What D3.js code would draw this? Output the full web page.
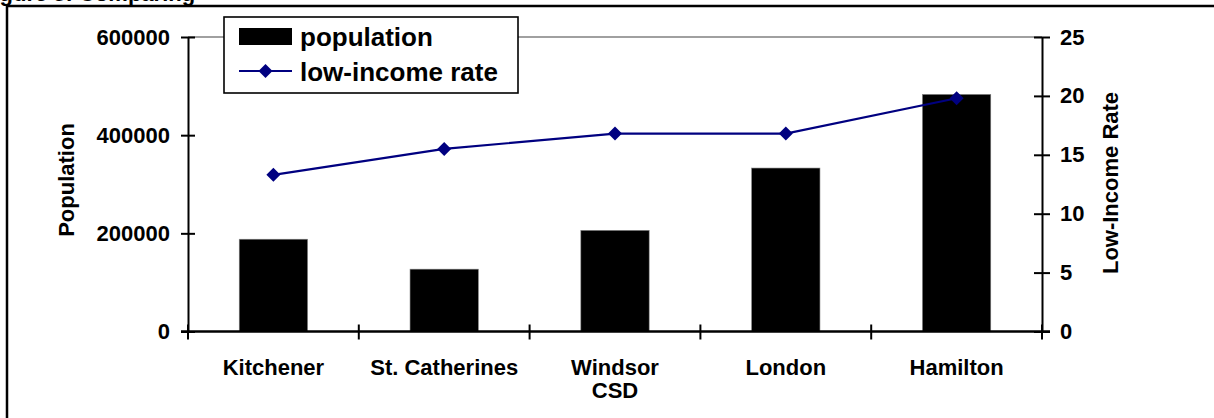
<!DOCTYPE html>
<html>
<head>
<meta charset="utf-8">
<script src="https://cdn.jsdelivr.net/npm/d3@7"></script>
<style>
  html, body { margin: 0; padding: 0; background: #fff; overflow: hidden; }
  svg { display: block; font-family: "Liberation Sans", Arial, sans-serif; font-weight: bold; }
</style>
</head>
<body>
<svg id="chart" width="1214" height="418"></svg>
<script>
// Cities (two-line labels split on "\n")
const categories = ["Kitchener", "St. Catherines", "Windsor\nCSD", "London", "Hamilton"];
// Population counts (bars, left axis)
const population = [188000, 127000, 206000, 333000, 483000];
// Low-income rate, % (line, right axis)
const lowIncomeRate = [13.3, 15.5, 16.8, 16.8, 19.8];
// Axis tick values
const popTicks = [0, 200000, 400000, 600000];
const rateTicks = [0, 5, 10, 15, 20, 25];
const titleText = "Figure 5: Comparing";

const svg = d3.select("#chart");
const plot = { left: 188, right: 1042, top: 37, bottom: 331.5 };

const x = d3.scaleBand().domain(categories).range([plot.left, plot.right]).padding(0);
const yPop = d3.scaleLinear().domain([0, 600000]).range([plot.bottom, plot.top]);
const yRate = d3.scaleLinear().domain([0, 25]).range([plot.bottom, plot.top]);

// Outer frame and figure title (sits above the frame, mostly out of view)
svg.append("text")
  .attr("x", -20).attr("y", 0.5)
  .attr("font-size", 22)
  .text(titleText);
svg.append("rect")
  .attr("x", 7).attr("y", 6)
  .attr("width", 1230).attr("height", 440)
  .attr("fill", "none").attr("stroke", "#000").attr("stroke-width", 2.5);

// Top gridline
svg.append("line")
  .attr("x1", plot.left).attr("x2", plot.right)
  .attr("y1", yPop(600000)).attr("y2", yPop(600000))
  .attr("stroke", "#808080").attr("stroke-width", 1.5);

// Bars
const barW = x.bandwidth() * 0.4;
svg.append("g").selectAll("rect")
  .data(categories)
  .join("rect")
  .attr("x", d => x(d) + (x.bandwidth() - barW) / 2)
  .attr("y", (d, i) => yPop(population[i]))
  .attr("width", barW)
  .attr("height", (d, i) => yPop(0) - yPop(population[i]))
  .attr("fill", "#000")
  .attr("stroke", "#808080").attr("stroke-width", 0.6);

// Left axis
const leftAxis = d3.axisLeft(yPop).tickValues(popTicks).tickSizeInner(7).tickSizeOuter(0).tickPadding(11).tickFormat(d3.format("d"));
const gl = svg.append("g").attr("transform", `translate(${plot.left},0)`).call(leftAxis);
gl.select(".domain").attr("stroke", "#000").attr("stroke-width", 2);
gl.selectAll(".tick line").attr("x2", 7).attr("x1", -7).attr("stroke", "#000").attr("stroke-width", 2);
gl.selectAll(".tick text").attr("font-size", 22).attr("font-family", "Liberation Sans, Arial, sans-serif").attr("font-weight", "bold").attr("fill", "#000");

// Right axis
const rightAxis = d3.axisRight(yRate).tickValues(rateTicks).tickSizeInner(8).tickSizeOuter(0).tickPadding(10);
const gr = svg.append("g").attr("transform", `translate(${plot.right},0)`).call(rightAxis);
gr.select(".domain").attr("stroke", "#000").attr("stroke-width", 2);
gr.selectAll(".tick line").attr("x1", -8).attr("x2", 8).attr("stroke", "#000").attr("stroke-width", 2);
gr.selectAll(".tick text").attr("font-size", 22).attr("font-family", "Liberation Sans, Arial, sans-serif").attr("font-weight", "bold").attr("fill", "#000");

// Bottom axis: category boundary ticks
const gb = svg.append("g");
gb.append("line")
  .attr("x1", plot.left - 7).attr("x2", plot.right + 8)
  .attr("y1", plot.bottom).attr("y2", plot.bottom)
  .attr("stroke", "#000").attr("stroke-width", 2.5);
const bounds = categories.map(d => x(d)).concat([x(categories[categories.length - 1]) + x.bandwidth()]);
gb.selectAll("line.cat")
  .data(bounds)
  .join("line").attr("class", "cat")
  .attr("x1", d => d).attr("x2", d => d)
  .attr("y1", plot.bottom - 7).attr("y2", plot.bottom + 8)
  .attr("stroke", "#000").attr("stroke-width", 2);
const labels = gb.selectAll("text.cat")
  .data(categories)
  .join("text").attr("class", "cat")
  .attr("text-anchor", "middle")
  .attr("font-size", 22)
  .attr("transform", d => `translate(${x(d) + x.bandwidth() / 2},375)`);
labels.selectAll("tspan")
  .data(d => d.split("\n"))
  .join("tspan")
  .attr("x", 0)
  .attr("dy", (d, i) => i === 0 ? 0 : 23)
  .text(d => d);

// Low-income rate line with diamond markers
const line = d3.line()
  .x((d, i) => x(categories[i]) + x.bandwidth() / 2)
  .y(d => yRate(d));
svg.append("path")
  .datum(lowIncomeRate)
  .attr("d", line)
  .attr("fill", "none").attr("stroke", "#000080").attr("stroke-width", 2.2);
const diamond = d3.symbol().type(d3.symbolDiamond2).size(125);
svg.append("g").selectAll("path")
  .data(lowIncomeRate)
  .join("path")
  .attr("d", diamond)
  .attr("transform", (d, i) => `translate(${x(categories[i]) + x.bandwidth() / 2},${yRate(d)})`)
  .attr("fill", "#000080");

// Axis titles
svg.append("text")
  .attr("transform", "translate(74,180) rotate(-90)")
  .attr("text-anchor", "middle").attr("font-size", 22)
  .text("Population");
svg.append("text")
  .attr("transform", "translate(1118,183) rotate(-90)")
  .attr("text-anchor", "middle").attr("font-size", 22)
  .text("Low-Income Rate");

// Legend
const lg = svg.append("g");
lg.append("rect")
  .attr("x", 224).attr("y", 17).attr("width", 294).attr("height", 76)
  .attr("fill", "#fff").attr("stroke", "#000").attr("stroke-width", 1.6);
lg.append("rect")
  .attr("x", 239).attr("y", 28).attr("width", 53).attr("height", 17)
  .attr("fill", "#000");
lg.append("text").attr("x", 300).attr("y", 46).attr("font-size", 26).text("population");
lg.append("line")
  .attr("x1", 239).attr("x2", 292).attr("y1", 71).attr("y2", 71)
  .attr("stroke", "#000080").attr("stroke-width", 2.2);
lg.append("path")
  .attr("d", diamond)
  .attr("transform", "translate(265.5,71)")
  .attr("fill", "#000080");
lg.append("text").attr("x", 300).attr("y", 81).attr("font-size", 26).text("low-income rate");
</script>
</body>
</html>
